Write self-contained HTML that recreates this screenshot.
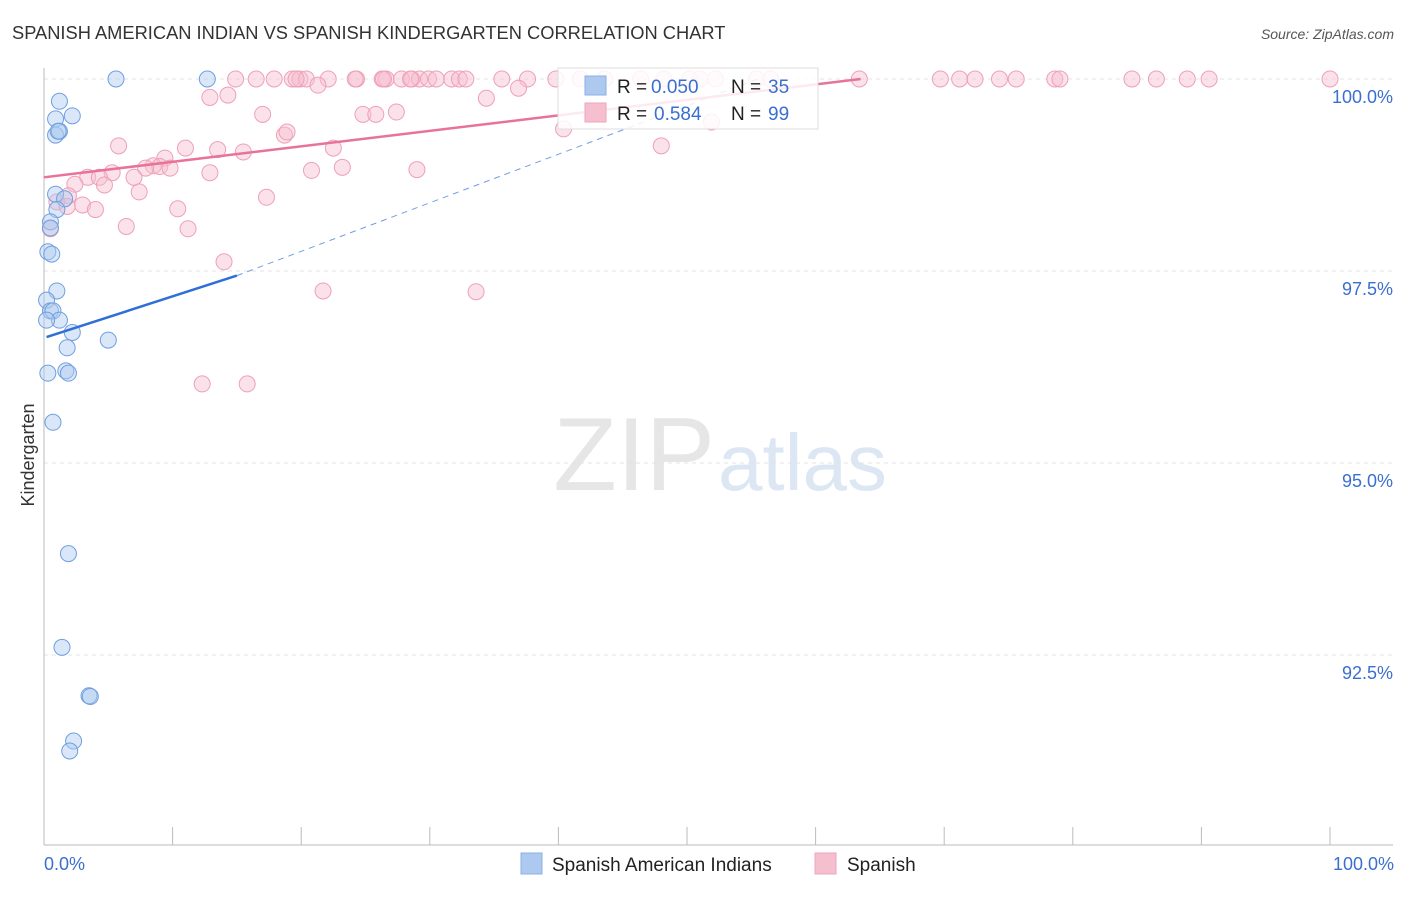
<!DOCTYPE html>
<html><head><meta charset="utf-8"><style>
body{margin:0;background:#fff;font-family:"Liberation Sans",sans-serif;}
svg text{font-family:"Liberation Sans",sans-serif;}
</style></head><body>
<svg id="c" width="1406" height="892" viewBox="0 0 1406 892">
<text x="12" y="39" font-size="18.3" fill="#333">SPANISH AMERICAN INDIAN VS SPANISH KINDERGARTEN CORRELATION CHART</text>
<text x="1394" y="39" font-size="14" fill="#555" font-style="italic" text-anchor="end">Source: ZipAtlas.com</text>
<text x="715" y="490" font-size="104" fill="#e6e6e6" text-anchor="end" font-family="Liberation Serif">ZIP</text>
<text x="718" y="490" font-size="80" fill="#dde7f3">atlas</text>
<g id="grid"></g><g id="pts"></g><g id="lines"></g>
<text x="34" y="455" font-size="18" fill="#333" transform="rotate(-90 34 455)" text-anchor="middle">Kindergarten</text>
<text x="44" y="870" font-size="18" fill="#3a6fd0">0.0%</text>
<text x="1394" y="870" font-size="18" fill="#3a6fd0" text-anchor="end">100.0%</text>
<g>
<rect x="558" y="68" width="260" height="61" fill="#fff" fill-opacity="0.85" stroke="#ddd"/>
<rect x="585" y="76" width="21" height="19" fill="#aec9f0" stroke="#8ab0e6"/>
<rect x="585" y="103" width="21" height="19" fill="#f6bfd0" stroke="#eea6bc"/>
<text x="617" y="93" font-size="19" fill="#222">R =</text>
<text x="651" y="93" font-size="19" fill="#3a6fd0">0.050</text>
<text x="731" y="93" font-size="19" fill="#222">N =</text>
<text x="768" y="93" font-size="19" fill="#3a6fd0">35</text>
<text x="617" y="120" font-size="19" fill="#222">R =</text>
<text x="654" y="120" font-size="19" fill="#3a6fd0">0.584</text>
<text x="731" y="120" font-size="19" fill="#222">N =</text>
<text x="768" y="120" font-size="19" fill="#3a6fd0">99</text>
</g>
<g>
<rect x="521" y="853" width="21" height="21" fill="#aec9f0" stroke="#8ab0e6"/>
<text x="552" y="871" font-size="19" fill="#222">Spanish American Indians</text>
<rect x="815" y="853" width="21" height="21" fill="#f6bfd0" stroke="#eea6bc"/>
<text x="847" y="871" font-size="19" fill="#222">Spanish</text>
</g>
</svg>
<script>
const yTicks=[100,97.5,95,92.5];
const yTickLabels=["100.0%","97.5%","95.0%","92.5%"];
const xTicks=[0,10,20,30,40,50,60,70,80,90,100];
const blueX=[5.6,12.7,1.2,0.9,2.2,0.9,1.2,1.1,0.9,1.6,1.0,0.5,0.5,0.3,0.6,1.0,0.2,0.5,0.7,1.2,0.2,2.2,1.8,5.0,0.3,1.7,1.9,0.7,1.9,1.4,3.5,3.6,2.3,2.0];
const blueY=[100,100,99.71,99.48,99.52,99.27,99.32,99.32,98.5,98.44,98.30,98.14,98.06,97.75,97.72,97.24,97.12,96.98,96.98,96.86,96.86,96.7,96.5,96.6,96.17,96.2,96.17,95.53,93.82,92.6,91.97,91.96,91.38,91.25];
const pinkX=[14.9,16.5,17.9,19.3,19.9,20.4,22.1,24.3,26.3,26.6,27.8,28.6,29.2,29.9,30.5,31.7,32.3,32.8,35.6,37.6,39.8,41.7,43.6,46.4,48.2,50.2,51.0,52.2,55.4,56.5,63.4,69.7,71.2,72.4,74.3,75.6,78.6,79.0,84.6,86.5,88.9,90.6,100,24.2,26.4,19.6,28.5,
12.9,14.3,21.3,34.4,36.9,17.0,24.8,25.8,27.4,18.7,18.9,5.8,11.0,13.5,15.5,22.5,48.0,40.4,51.9,9.4,8.5,9.0,7.9,9.8,5.3,12.9,20.8,23.2,29.0,3.4,4.3,7.0,2.4,4.7,17.3,7.4,1.9,1.0,3.0,1.8,10.4,4.0,6.4,11.2,0.5,14.0,33.6,21.7,12.3,15.8];
const pinkY=[100,100,100,100,100,100,100,100,100,100,100,100,100,100,100,100,100,100,100,100,100,100,100,100,100,100,100,100,100,100,100,100,100,100,100,100,100,100,100,100,100,100,100,100,100,100,100,
99.76,99.79,99.92,99.75,99.88,99.54,99.54,99.54,99.57,99.27,99.31,99.13,99.1,99.08,99.05,99.1,99.13,99.35,99.44,98.97,98.87,98.86,98.84,98.84,98.78,98.78,98.81,98.85,98.82,98.72,98.72,98.72,98.63,98.62,98.46,98.53,98.48,98.40,98.36,98.34,98.31,98.30,98.08,98.05,98.05,97.62,97.23,97.24,96.03,96.03];
const blueFit=[[0.2,96.64],[15,97.44]], blueDash=[[15,97.44],[55.5,100]];
const pinkFit=[[0,98.72],[63.5,100]];
const NS="http://www.w3.org/2000/svg";
const X=v=>44+v*12.86, Y=v=>79+(100-v)*76.8;
function mk(t,a,p){const e=document.createElementNS(NS,t);for(const k in a)e.setAttribute(k,a[k]);p.appendChild(e);return e;}
const grid=document.getElementById('grid');
yTicks.forEach((t,i)=>{
 const l=mk('line',{x1:44,x2:1393,y1:Y(t),y2:Y(t),stroke:'#e3e3e3','stroke-dasharray':'4 4'},grid);
 
 
 const tx=mk('text',{x:1393,y:Y(t)+24,'font-size':18,fill:'#3a6fd0','text-anchor':'end'},grid);
 tx.textContent=yTickLabels[i];
 
 
});
const ax=mk('line',{x1:44,x2:1393,y1:845,y2:845,stroke:'#bbb'},grid);


const ay=mk('line',{x1:44,x2:44,y1:68,y2:845,stroke:'#bbb'},grid);


xTicks.forEach(t=>{const l=mk('line',{x1:X(t),x2:X(t),y1:827,y2:845,stroke:'#bbb'},grid);
 
 });
const pts=document.getElementById('pts');
pinkX.forEach((x,i)=>{const c=mk('circle',{cx:X(x),cy:Y(pinkY[i]),r:8,fill:'#f6bfd0','fill-opacity':0.45,stroke:'#eea0b8','stroke-width':1},pts);
 
 });
blueX.forEach((x,i)=>{const c=mk('circle',{cx:X(x),cy:Y(blueY[i]),r:8,fill:'#aec9f0','fill-opacity':0.45,stroke:'#6f9fe0','stroke-width':1},pts);
 
 });
const lines=document.getElementById('lines');
const bl=mk('line',{x1:X(blueFit[0][0]),y1:Y(blueFit[0][1]),x2:X(blueFit[1][0]),y2:Y(blueFit[1][1]),stroke:'#2f6fd6','stroke-width':2.5},lines);


const bd=mk('line',{x1:X(blueDash[0][0]),y1:Y(blueDash[0][1]),x2:X(blueDash[1][0]),y2:Y(blueDash[1][1]),stroke:'#6f9fe0','stroke-width':1,'stroke-dasharray':'6 5'},lines);


const pl=mk('line',{x1:X(pinkFit[0][0]),y1:Y(pinkFit[0][1]),x2:X(pinkFit[1][0]),y2:Y(pinkFit[1][1]),stroke:'#e8739a','stroke-width':2.5},lines);


</script>
</body></html>
